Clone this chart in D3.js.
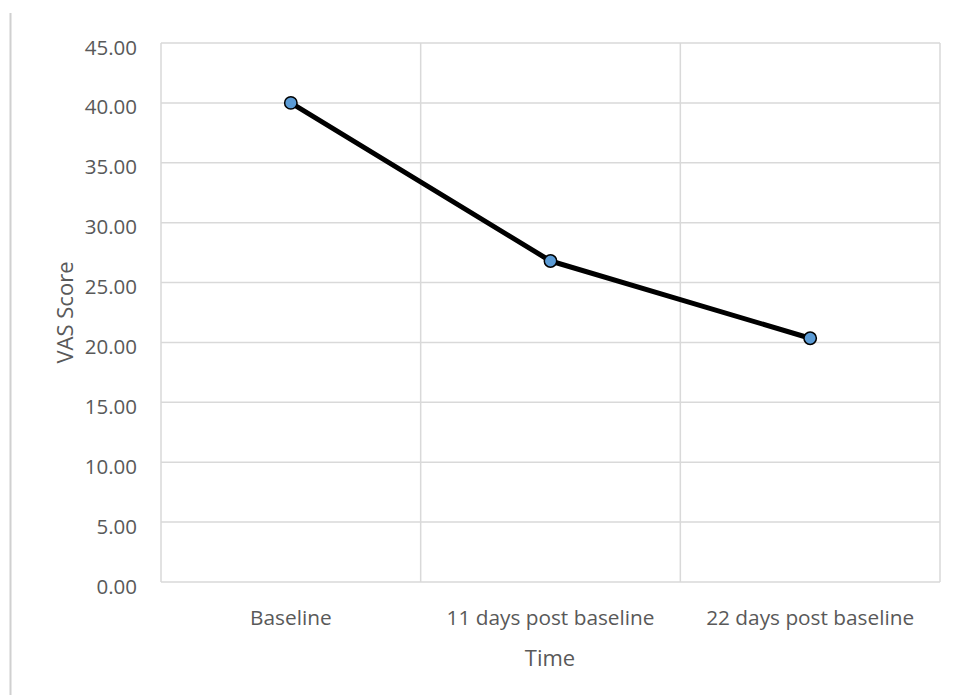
<!DOCTYPE html>
<html><head><meta charset="utf-8">
<script src="https://cdn.jsdelivr.net/npm/d3@7"></script>
<style>body{margin:0;background:#fff}svg{display:block}</style>
</head><body>
<svg id="c" width="957" height="695"></svg>
<script>
const categories = ["Baseline", "11 days post baseline", "22 days post baseline"];
const values = [40.0, 26.8, 20.35];
const yTicks = [0, 5, 10, 15, 20, 25, 30, 35, 40, 45];

const svg = d3.select("#c");
const font = "Open Sans, sans-serif";
const L = 161, R = 940, T = 43, B = 582;

svg.append("line").attr("x1", 10.5).attr("x2", 10.5).attr("y1", 13).attr("y2", 695)
  .attr("stroke", "#d0d0d0").attr("stroke-width", 2);

const x = d3.scaleBand().domain(categories).range([L, R]).padding(0);
const y = d3.scaleLinear().domain([0, 45]).range([B, T]);

const g = svg.append("g");
g.selectAll(".hg").data(yTicks).join("line")
  .attr("x1", L).attr("x2", R).attr("y1", d => y(d)).attr("y2", d => y(d))
  .attr("stroke", "#d9d9d9").attr("stroke-width", 1.5);
const bounds = categories.map(c => x(c)).concat([R]);
g.selectAll(".vg").data(bounds).join("line")
  .attr("x1", d => d).attr("x2", d => d).attr("y1", T).attr("y2", B)
  .attr("stroke", "#d9d9d9").attr("stroke-width", 1.5);

// y axis labels
const yAxis = d3.axisLeft(y).tickValues(yTicks).tickFormat(d3.format(".2f")).tickSize(0).tickPadding(24);
const ya = svg.append("g").attr("transform", `translate(${L},0)`).call(yAxis);
ya.select(".domain").remove();
ya.selectAll("text").attr("font-family", font).attr("font-size", 20.5).attr("fill", "#595959")
  .attr("dy", null).attr("y", 11);

// x axis labels
const xAxis = d3.axisBottom(x).tickSize(0).tickPadding(0);
const xa = svg.append("g").attr("transform", `translate(0,${B})`).call(xAxis);
xa.select(".domain").remove();
xa.selectAll("text").attr("font-family", font).attr("font-size", 20.8).attr("fill", "#595959")
  .attr("dy", null).attr("y", 43);

// axis titles
svg.append("text").attr("x", (L + R) / 2 - 0.5).attr("y", 666).attr("text-anchor", "middle")
  .attr("font-family", font).attr("font-size", 22).attr("fill", "#595959").text("Time");
svg.append("text").attr("transform", `translate(73,${(T + B) / 2}) rotate(-90)`).attr("text-anchor", "middle")
  .attr("font-family", font).attr("font-size", 22).attr("fill", "#595959").text("VAS Score");

// line
const line = d3.line().x((d, i) => x(categories[i]) + x.bandwidth() / 2).y(d => y(d));
svg.append("path").datum(values).attr("d", line).attr("fill", "none")
  .attr("stroke", "#000").attr("stroke-width", 5).attr("stroke-linejoin", "round");
svg.selectAll(".pt").data(values).join("circle")
  .attr("cx", (d, i) => x(categories[i]) + x.bandwidth() / 2).attr("cy", d => y(d)).attr("r", 6.2)
  .attr("fill", "#5b9bd5").attr("stroke", "#000").attr("stroke-width", 1.5);
</script>
</body></html>
